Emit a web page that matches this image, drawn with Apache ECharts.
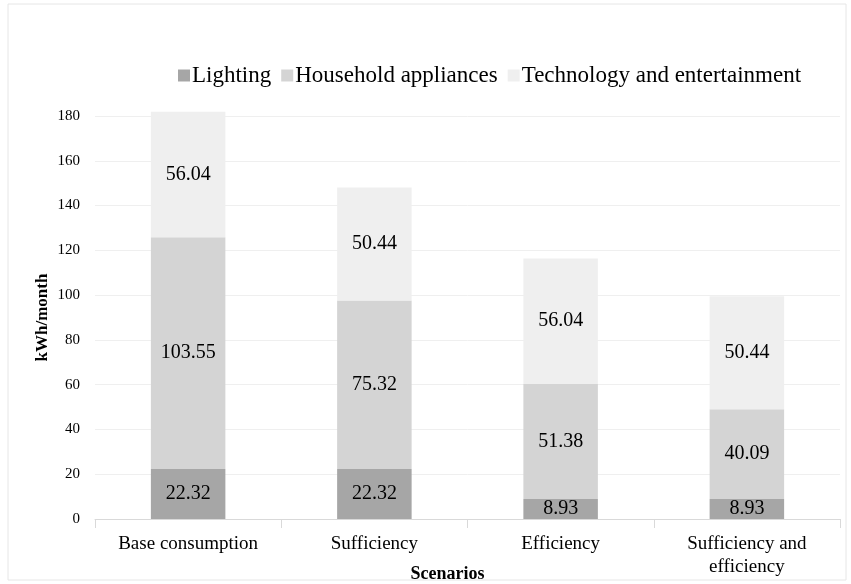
<!DOCTYPE html>
<html>
<head>
<meta charset="utf-8">
<script src="https://cdn.jsdelivr.net/npm/echarts@6/dist/echarts.min.js"></script>
<style>
  html, body { margin: 0; padding: 0; background: #fff; }
  #chart { width: 851px; height: 584px; }
</style>
</head>
<body>
<div id="chart"></div>
<script>
const categories = ['Base consumption', 'Sufficiency', 'Efficiency', 'Sufficiency and\nefficiency'];
const lighting = [22.32, 22.32, 8.93, 8.93];
const household = [103.55, 75.32, 51.38, 40.09];
const technology = [56.04, 50.44, 56.04, 50.44];
const seriesNames = ['Lighting', 'Household appliances', 'Technology and entertainment'];
const colors = ['#a6a6a6', '#d4d4d4', '#efefef'];

const font = '"Liberation Serif", "Times New Roman", serif';
const chart = echarts.init(document.getElementById('chart'));

function makeSeries(name, data, color) {
  return {
    name: name,
    type: 'bar',
    stack: 'total',
    data: data,
    barWidth: '40%',
    clip: false,
    itemStyle: { color: color },
    label: {
      show: true,
      position: 'inside',
      color: '#000',
      fontFamily: font,
      fontSize: 20,
      formatter: p => p.value.toFixed(2)
    }
  };
}

chart.setOption({
  animation: false,
  color: colors,
  graphic: [{
    type: 'rect',
    shape: { x: 8, y: 4, width: 838, height: 576 },
    style: { fill: 'none', stroke: '#e6e6e6', lineWidth: 1 }
  }],
  legend: {
    top: 59,
    left: 173,
    itemWidth: 12,
    itemHeight: 12,
    itemGap: 10,
    icon: 'rect',
    textStyle: { fontFamily: font, fontSize: 23, color: '#000', padding: [0, 0, 0, -3] },
    data: seriesNames
  },
  grid: { left: 95, right: 11, top: 116, bottom: 65, outerBoundsMode: 'none' },
  xAxis: {
    type: 'category',
    data: categories,
    name: 'Scenarios',
    nameLocation: 'middle',
    nameGap: 46,
    nameMoveOverlap: false,
    nameTextStyle: { fontFamily: font, fontSize: 18, fontWeight: 'bold', color: '#000', padding: [0, 40, 0, 0] },
    axisLine: { lineStyle: { color: '#d9d9d9' } },
    axisTick: { show: true, length: 9, lineStyle: { color: '#d9d9d9' } },
    axisLabel: { fontFamily: font, fontSize: 19, color: '#000', margin: 14, lineHeight: 23, interval: 0 }
  },
  yAxis: {
    type: 'value',
    min: 0,
    max: 180,
    interval: 20,
    name: 'kWh/month',
    nameLocation: 'middle',
    nameGap: 44,
    nameMoveOverlap: false,
    nameTextStyle: { fontFamily: font, fontSize: 17, fontWeight: 'bold', color: '#000' },
    axisLine: { show: false },
    axisTick: { show: false },
    splitLine: { lineStyle: { color: '#efefef' } },
    axisLabel: { fontFamily: font, fontSize: 15, color: '#000', margin: 15 }
  },
  series: [
    makeSeries(seriesNames[0], lighting, colors[0]),
    makeSeries(seriesNames[1], household, colors[1]),
    makeSeries(seriesNames[2], technology, colors[2])
  ]
});
</script>
</body>
</html>
